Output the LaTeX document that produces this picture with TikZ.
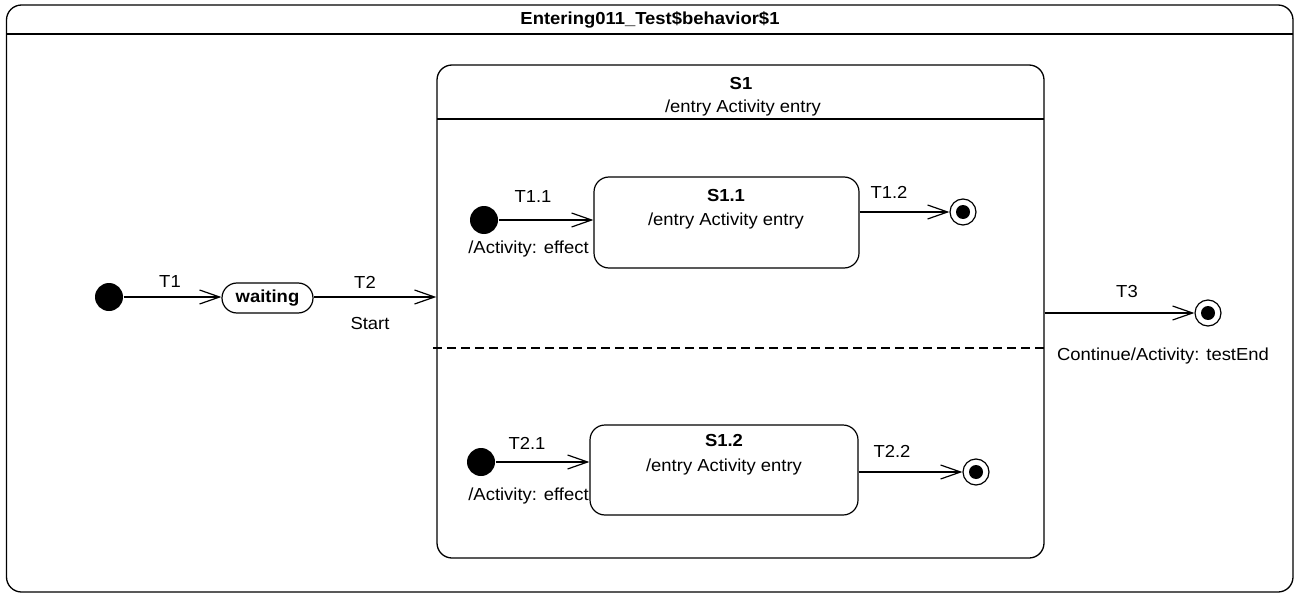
\documentclass[tikz,border=0pt]{standalone}
\usepackage{fontspec}
\setmainfont[FakeStretch=1.06]{Liberation Sans}
\usetikzlibrary{arrows.meta}

\begin{document}
\begin{tikzpicture}[x=1pt,y=1pt,yscale=-1,xscale=1,
  font=\fontsize{17.4}{20}\selectfont, line width=1.2pt,
  trans/.style={-{Straight Barb[length=20pt,width=14pt,line width=1.2pt]}},
  state/.style={draw, rounded corners=15pt, inner sep=0pt},
  initial/.style={circle, fill=black, minimum size=28pt, inner sep=0pt},
  final/.style={circle, draw, minimum size=26pt, inner sep=0pt,
    path picture={\fill (path picture bounding box.center) circle (7);}},
  lbl/.style={inner sep=0.75pt}]
\useasboundingbox (0,0) rectangle (1299,594);

%Shape: Frame [id:frame]
\draw [rounded corners=15pt, line width=1.3pt] (6.5,5) rectangle (1293,592);
\draw [line width=1.3pt] (6.5,34) -- (1293,34);
% Text Node
\node [lbl, font=\fontsize{17.4}{20}\selectfont\bfseries] (title) at (650,20) {Entering011\_Test\$behavior\$1};

%Shape: Composite state S1
\node [state, line width=1.3pt, minimum width=607, minimum height=493] (S1) at (740.5,311.5) {};
\draw [line width=1.3pt] (437,119) -- (1044,119);
\draw [dash pattern={on 9pt off 5pt}] (433,348) -- (1044,348);
% Text Node
\node [lbl, font=\fontsize{17.4}{20}\selectfont\bfseries] (S1name) at (741,84) {S1};
\node [lbl] (S1entry) at (743,108) {/entry Activity entry};

%Shape: Initial + waiting
\node [initial] (i0) at (109,297) {};
\node [state, minimum width=91, minimum height=30, font=\fontsize{17.4}{20}\selectfont\bfseries] (waiting) at (267.5,298) {waiting};
%Shape: Final T3
\node [final] (f0) at (1208,313) {};

%Shape: Region 1
\node [initial] (i11) at (484,220) {};
\node [state, minimum width=265, minimum height=91] (S11) at (726.5,222.5) {};
\node [final] (f11) at (963,212) {};
% Text Node
\node [lbl, font=\fontsize{17.4}{20}\selectfont\bfseries] (S11name) at (726,196) {S1.1};
\node [lbl] (S11entry) at (726,221) {/entry Activity entry};

%Shape: Region 2
\node [initial] (i12) at (481,462) {};
\node [state, minimum width=268, minimum height=90] (S12) at (724,470) {};
\node [final] (f12) at (976,472) {};
% Text Node
\node [lbl, font=\fontsize{17.4}{20}\selectfont\bfseries] (S12name) at (724,441) {S1.2};
\node [lbl] (S12entry) at (724,467) {/entry Activity entry};

%Straight Lines [transitions]
\draw [trans] (i0) -- (i0 -| waiting.west);
\draw [trans] (waiting.east |- i0) -- (i0 -| S1.west);
\draw [trans] (S1.east |- f0) -- (f0);
\draw [trans] (i11) -- (i11 -| S11.west);
\draw [trans] (S11.east |- f11) -- (f11);
\draw [trans] (i12) -- (i12 -| S12.west);
\draw [trans] (S12.east |- f12) -- (f12);

% Text Node
\node [lbl] (T1) at (170,282) {T1};
\node [lbl] (T2) at (365,282) {T2};
\node [lbl] (start) at (370,324) {Start};
\node [lbl] (T11) at (533,197) {T1.1};
\node [lbl, anchor=west] (eff1) at (467,249) {/Activity: effect};
\node [lbl] (T12) at (889,192) {T1.2};
\node [lbl] (T21) at (527,443) {T2.1};
\node [lbl, anchor=west] (eff2) at (467,496) {/Activity: effect};
\node [lbl] (T22) at (892,451) {T2.2};
\node [lbl] (T3) at (1127,292) {T3};
\node [lbl] (cont) at (1163,356) {Continue/Activity: testEnd};

\end{tikzpicture}
\end{document}
